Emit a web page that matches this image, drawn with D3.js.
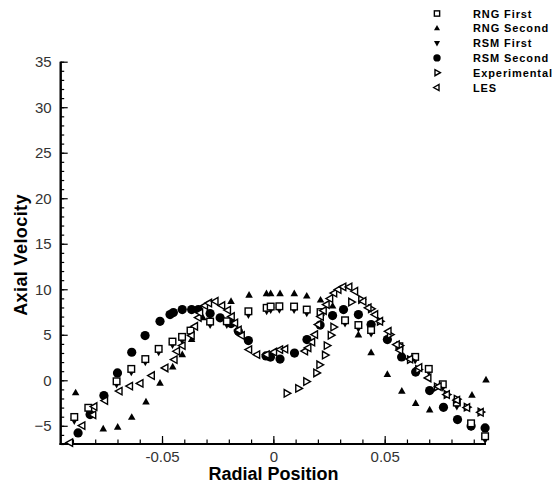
<!DOCTYPE html>
<html><head><meta charset="utf-8">
<script src="https://cdn.jsdelivr.net/npm/d3@7"></script>
<style>body{margin:0;background:#fff}svg{display:block}</style>
</head><body>
<svg id="c" width="556" height="485"></svg>
<script>
const seriesNames = ["RNG First","RNG Second","RSM First","RSM Second","Experimental","LES"];
const yTicks = [-5,0,5,10,15,20,25,30,35];
const xTicks = [-0.05,0,0.05];
const xTickLabels = ["-0.05","0","0.05"];

const rngFirstX = [-0.0894,-0.0831,-0.0704,-0.0638,-0.0575,-0.0515,-0.0453,-0.0410,-0.0372,-0.0284,-0.0209,-0.0112,-0.0030,-0.0012,0.0027,0.0093,0.0150,0.0212,0.0322,0.0382,0.0439,0.0566,0.0637,0.0698,0.0761,0.0824,0.0888,0.0951];
const rngFirstY = [-4.03,-3.02,-0.11,1.25,2.33,3.45,4.25,4.77,5.46,6.45,6.48,7.58,7.96,8.10,8.13,8.10,7.77,7.49,6.59,6.07,5.52,3.74,2.57,1.25,-0.44,-2.45,-4.73,-6.15];

const rngSecondX = [-0.0888,-0.0764,-0.0699,-0.0636,-0.0572,-0.0509,-0.0452,-0.0409,-0.0367,-0.0316,-0.0190,-0.0109,-0.0031,-0.0012,0.0030,0.0094,0.0150,0.0212,0.0266,0.0382,0.0439,0.0512,0.0577,0.0639,0.0702,0.0892,0.0955];
const rngSecondY = [-1.38,-5.34,-5.16,-4.07,-2.37,-0.33,1.47,2.82,4.47,6.86,8.66,9.34,9.52,9.52,9.52,9.52,9.25,8.81,8.15,4.98,3.04,0.63,-1.20,-2.55,-3.25,-1.64,0.04];

const rsmFirstX = [-0.0894,-0.0831,-0.0704,-0.0638,-0.0575,-0.0515,-0.0453,-0.0410,-0.0372,-0.0284,-0.0209,-0.0112,-0.0030,-0.0012,0.0027,0.0093,0.0150,0.0212,0.0322,0.0382,0.0439,0.0566,0.0637,0.0698,0.0761,0.0824,0.0888,0.0951];
const rsmFirstY = [-4.45,-3.40,-0.45,0.90,2.00,3.10,3.90,4.40,5.10,6.10,6.10,7.20,7.60,7.75,7.78,7.75,7.40,7.10,6.25,5.70,5.15,3.40,2.20,0.90,-0.80,-2.85,-5.10,-6.55];

const rsmSecondX = [-0.0877,-0.0823,-0.0761,-0.0700,-0.0636,-0.0576,-0.0509,-0.0464,-0.0449,-0.0409,-0.0367,-0.0337,-0.0284,-0.0239,-0.0190,-0.0157,-0.0112,-0.0033,-0.0013,0.0030,0.0095,0.0151,0.0210,0.0266,0.0315,0.0382,0.0439,0.0512,0.0576,0.0639,0.0702,0.0764,0.0827,0.0888,0.0951];
const rsmSecondY = [-5.78,-3.77,-1.68,0.81,3.08,4.91,6.48,7.22,7.44,7.77,7.77,7.77,7.33,6.86,6.23,5.38,4.36,2.68,2.55,2.33,2.99,4.47,6.07,7.11,7.77,7.22,6.12,4.47,2.57,0.90,-1.13,-2.97,-4.32,-5.03,-5.23];

const expX = [0.0060,0.0112,0.0148,0.0193,0.0207,0.0232,0.0240,0.0258,0.0270,0.0350,0.0395,0.0439,0.0479,0.0524,0.0567,0.0614,0.0651,0.0735,0.0779,0.0824,0.0869,0.0931];
const expY = [-1.43,-0.89,-0.14,0.81,1.70,2.77,3.81,4.95,5.85,8.59,8.87,7.85,6.48,5.02,3.81,2.27,1.18,-0.73,-1.57,-2.07,-2.95,-3.49];

const lesX = [-0.0913,-0.0858,-0.0809,-0.0804,-0.0756,-0.0691,-0.0644,-0.0597,-0.0546,-0.0485,-0.0444,-0.0433,-0.0408,-0.0367,-0.0352,-0.0336,-0.0329,-0.0307,-0.0289,-0.0260,-0.0230,-0.0204,-0.0187,-0.0172,-0.0156,-0.0142,-0.0109,-0.0073,-0.0030,0.0003,0.0030,0.0053,0.0142,0.0157,0.0174,0.0187,0.0202,0.0213,0.0226,0.0239,0.0255,0.0273,0.0292,0.0314,0.0341,0.0367,0.0404,0.0427,0.0457,0.0479,0.0517,0.0554,0.0569,0.0614,0.0655,0.0696,0.0742,0.0779,0.0825,0.0870,0.0931];
const lesY = [-6.85,-4.98,-3.80,-2.89,-2.23,-1.19,-0.64,-0.34,0.52,1.36,2.27,3.19,3.81,4.91,5.93,6.89,7.41,8.21,8.48,8.68,8.21,7.71,7.00,6.29,5.52,4.91,3.37,2.82,2.82,3.10,3.37,3.43,3.21,3.56,4.20,5.02,6.12,7.00,7.66,8.32,8.98,9.58,9.97,10.26,10.26,9.78,8.68,7.96,7.22,6.48,5.38,3.92,3.30,2.33,1.40,0.26,-0.69,-1.57,-2.18,-3.00,-3.52];

const svg = d3.select("#c");
const x = d3.scaleLinear().domain([-0.0955, 0.0955]).range([60.7, 486]);
const y = d3.scaleLinear().domain([-7, 35]).range([444, 61.7]);

const font = "'Liberation Sans', Arial, sans-serif";
const gx = svg.append("g").attr("transform", `translate(0,${y(-7)})`);
gx.call(d3.axisBottom(x).tickValues(d3.range(-9,10).map(d=>d/100)).tickSize(-4.5).tickFormat(""));
gx.append("g").call(d3.axisBottom(x).tickValues(xTicks).tickSize(-8).tickFormat((d,i)=>xTickLabels[i]).tickPadding(7));
gx.selectAll(".domain").attr("stroke","#000").attr("stroke-width",2).attr("d",`M${x.range()[0]-1},0H${x.range()[1]}`);
gx.selectAll(".tick line").attr("stroke","#000").attr("stroke-width",1.2);
gx.selectAll(".tick text").attr("font-family",font).attr("font-size",15).attr("fill","#333");

const gy = svg.append("g").attr("transform", `translate(${x.range()[0]},0)`);
gy.call(d3.axisLeft(y).tickValues(d3.range(-7,36)).tickSize(-3.5).tickFormat(""));
gy.append("g").call(d3.axisLeft(y).tickValues(yTicks).tickSize(-7).tickPadding(9));
gy.selectAll(".domain").attr("stroke","#000").attr("stroke-width",2).attr("d",`M0,${y.range()[0]+1}V${y.range()[1]}`);
gy.selectAll(".tick line").attr("stroke","#000").attr("stroke-width",1.2);
gy.selectAll(".tick text").attr("font-family",font).attr("font-size",15).attr("fill","#333");

svg.append("text").attr("x",273.5).attr("y",480).attr("text-anchor","middle")
  .attr("font-family",font).attr("font-weight","bold").attr("font-size",18).text("Radial Position");
svg.append("text").attr("transform","translate(27,255) rotate(-90)").attr("text-anchor","middle")
  .attr("font-family",font).attr("font-weight","bold").attr("font-size",18).attr("letter-spacing",0.4).text("Axial Velocity");

function sym(g, type, cx, cy, s) {
  const k = s || 1;
  if (type === "square") {
    g.append("rect").attr("x",cx-3.3*k).attr("y",cy-3.3*k).attr("width",6.6*k).attr("height",6.6*k)
      .attr("fill","#fff").attr("stroke","#000").attr("stroke-width",1.4);
  } else if (type === "circle") {
    g.append("circle").attr("cx",cx).attr("cy",cy).attr("r",4.6*k).attr("fill","#000");
  } else {
    const r = 4.2*k;
    let pts;
    if (type === "up") pts = [[0,-r],[r*0.9,r*0.6],[-r*0.9,r*0.6]];
    else if (type === "down") pts = [[0,r],[r*0.9,-r*0.6],[-r*0.9,-r*0.6]];
    else if (type === "right") pts = [[r,0],[-r*0.6,-r*0.9],[-r*0.6,r*0.9]];
    else pts = [[-r,0],[r*0.6,-r*0.9],[r*0.6,r*0.9]];
    const p = g.append("path").attr("d","M"+pts.map(q=>[cx+q[0],cy+q[1]].join(",")).join("L")+"Z");
    if (type === "up" || type === "down") p.attr("fill","#000");
    else p.attr("fill","#fff").attr("stroke","#000").attr("stroke-width",1.4).attr("stroke-linejoin","miter");
  }
}

const series = [
  {name:"RSM Second", xs:rsmSecondX, ys:rsmSecondY, type:"circle"},
  {name:"RNG Second", xs:rngSecondX, ys:rngSecondY, type:"up"},
  {name:"RSM First", xs:rsmFirstX, ys:rsmFirstY, type:"down"},
  {name:"RNG First", xs:rngFirstX, ys:rngFirstY, type:"square"},
  {name:"Experimental", xs:expX, ys:expY, type:"right"},
  {name:"LES", xs:lesX, ys:lesY, type:"left"}
];
const plot = svg.append("g");
series.forEach(s => {
  const g = plot.append("g").attr("class","series");
  s.xs.forEach((xv,i) => sym(g, s.type, x(xv), y(s.ys[i])));
});

const legTypes = {"RNG First":"square","RNG Second":"up","RSM First":"down","RSM Second":"circle","Experimental":"right","LES":"left"};
const leg = svg.append("g");
seriesNames.forEach((n,i) => {
  const cy = 13.5 + i*14.8;
  sym(leg, legTypes[n], 437, cy, 0.8);
  leg.append("text").attr("x",473).attr("y",cy+4).attr("font-family",font).attr("font-weight","bold")
    .attr("font-size",11).attr("letter-spacing",0.9).text(n);
});
</script>
</body></html>
